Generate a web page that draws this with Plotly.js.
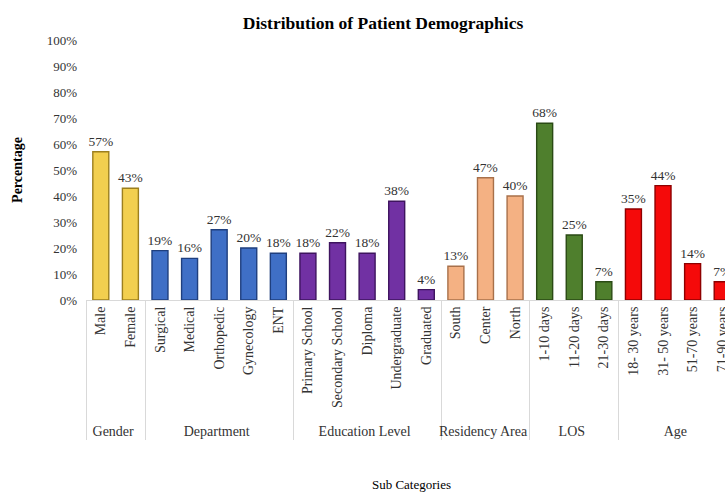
<!DOCTYPE html>
<html>
<head>
<meta charset="utf-8">
<script src="https://cdn.plot.ly/plotly-3.0.1.min.js"></script>
<style>
html, body { margin: 0; padding: 0; overflow: hidden; background: #fff; }
#chart { width: 760px; height: 492px; }
</style>
</head>
<body>
<div id="chart"></div>
<script>
const groups = ['Gender','Gender',
  'Department','Department','Department','Department','Department',
  'Education Level','Education Level','Education Level','Education Level','Education Level',
  'Residency Area','Residency Area','Residency Area',
  'LOS','LOS','LOS',
  'Age','Age','Age','Age'];
const subCategories = ['Male','Female',
  'Surgical','Medical','Orthopedic','Gynecology','ENT',
  'Primary School','Secondary School','Diploma','Undergraduate','Graduated',
  'South','Center','North',
  '1-10 days','11-20 days','21-30 days',
  '18- 30 years','31- 50 years','51-70 years','71-90 years'];
const percentages = [57,43, 19,16,27,20,18, 18,22,18,38,4, 13,47,40, 68,25,7, 35,44,14,7];

const groupFill = {
  'Gender': '#F2CF4F',
  'Department': '#3F6FC6',
  'Education Level': '#7131A3',
  'Residency Area': '#F4B183',
  'LOS': '#4F7F2D',
  'Age': '#F50A0A'
};
const groupEdge = {
  'Gender': '#9C7F1E',
  'Department': '#1F3F7E',
  'Education Level': '#3E145F',
  'Residency Area': '#A8704A',
  'LOS': '#2A4A14',
  'Age': '#8E0000'
};

const serif = 'Liberation Serif, Times New Roman, serif';

const trace = {
  type: 'bar',
  x: [groups, subCategories],
  y: percentages,
  marker: {
    color: groups.map(g => groupFill[g]),
    line: { color: groups.map(g => groupEdge[g]), width: 1.4 }
  },
  text: percentages.map(v => v + '%'),
  textposition: 'outside',
  constraintext: 'none',
  cliponaxis: false,
  outsidetextfont: { family: serif, size: 13.5, color: '#333333' },
  textfont: { family: serif, size: 13.5, color: '#333333' },
  hoverinfo: 'skip'
};

const layout = {
  width: 760,
  height: 492,
  margin: { l: 86, r: 22.8, t: 40, b: 192 },
  paper_bgcolor: '#ffffff',
  plot_bgcolor: '#ffffff',
  showlegend: false,
  bargap: 0.46,
  title: {
    text: '<b>Distribution of Patient Demographics</b>',
    font: { family: serif, size: 17.5, color: '#000000' },
    xref: 'container', x: 0.504, xanchor: 'center',
    yref: 'container', y: 0.953, yanchor: 'middle'
  },
  xaxis: {
    type: 'multicategory',
    range: [-0.5, 21.5],
    tickangle: -90,
    ticks: '',
    showline: true,
    linecolor: '#d9d9d9',
    linewidth: 1,
    showgrid: false,
    showdividers: true,
    dividercolor: '#d9d9d9',
    dividerwidth: 1,
    tickfont: { family: serif, size: 14, color: '#333333' },
    title: {
      text: 'Sub Categories',
      font: { family: serif, size: 13, color: '#000000' },
      standoff: 41
    }
  },
  yaxis: {
    range: [0, 100],
    dtick: 10,
    ticksuffix: '%',
    showgrid: false,
    zeroline: false,
    showline: false,
    ticks: '',
    ticklabelstandoff: 8,
    tickfont: { family: serif, size: 13, color: '#333333' },
    title: {
      text: '<b>Percentage</b>',
      font: { family: serif, size: 14, color: '#000000' },
      standoff: 20
    }
  }
};

Plotly.newPlot('chart', [trace], layout, { displayModeBar: false, staticPlot: true });
</script>
</body>
</html>
